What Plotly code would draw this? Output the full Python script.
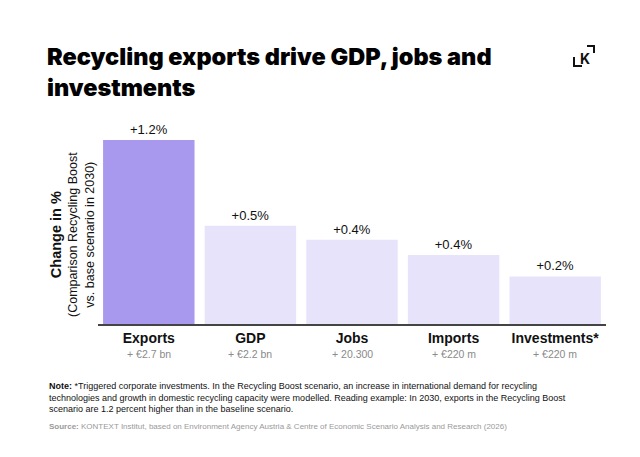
import plotly.graph_objects as go

categories = ['Exports', 'GDP', 'Jobs', 'Imports', 'Investments*']
change_pct = [1.2, 0.64, 0.55, 0.45, 0.31]
value_labels = ['+1.2%', '+0.5%', '+0.4%', '+0.4%', '+0.2%']
abs_labels = ['+ €2.7 bn', '+ €2.2 bn', '+ 20.300', '+ €220 m', '+ €220 m']
bar_colors = ['#a898ee', '#e7e3fb', '#e7e3fb', '#e7e3fb', '#e7e3fb']

FONT = 'Liberation Sans'
W, H = 640, 457
L, R, T, B = 98, 34, 140, 133
pw, ph = W - L - R, H - T - B


def px_x(v):
    return (v - L) / pw


def px_y(v):
    return (H - B - v) / ph


fig = go.Figure(go.Bar(
    x=categories, y=change_pct,
    marker=dict(color=bar_colors, line=dict(width=0)),
    text=value_labels, textposition='outside', cliponaxis=False,
    textfont=dict(family=FONT, size=13, color='#111111'),
    hoverinfo='skip',
))

# sub labels under category names
for cat, lab in zip(categories, abs_labels):
    fig.add_annotation(x=cat, y=0, xref='x', yref='y', yshift=-30,
                       text=lab, showarrow=False,
                       font=dict(family=FONT, size=10.5, color='#8a8a8a'))

# y-axis title (rotated lines)
fig.add_annotation(
    x=px_x(72), y=px_y(235), xref='paper', yref='paper', xanchor='center',
    text='<b style="font-size:14.5px">Change in %</b><br>(Comparison Recycling Boost<br>vs. base scenario in 2030)',
    textangle=-90, showarrow=False, align='center',
    font=dict(family=FONT, size=12.5, color='#111111'))

# note and source
note = ('<b>Note:</b> *Triggered corporate investments. In the Recycling Boost scenario, an increase in international demand for recycling<br>'
        'technologies and growth in domestic recycling capacity were modelled. Reading example: In 2030, exports in the Recycling Boost<br>'
        'scenario are 1.2 percent higher than in the baseline scenario.')
fig.add_annotation(x=px_x(47), y=px_y(379), xref='paper', yref='paper', text=note,
                   showarrow=False, xanchor='left', yanchor='top', align='left',
                   font=dict(family=FONT, size=9, color='#111111'))
source = ('<b>Source:</b> KONTEXT Institut, based on Environment Agency Austria & '
          'Centre of Economic Scenario Analysis and Research (2026)')
fig.add_annotation(x=px_x(47), y=px_y(420), xref='paper', yref='paper', text=source,
                   showarrow=False, xanchor='left', yanchor='top', align='left',
                   font=dict(family=FONT, size=8, color='#9a9a9a'))

# logo
fig.add_annotation(x=px_x(585), y=px_y(58), xref='paper', yref='paper',
                   xanchor='center', yanchor='middle',
                   text='<b>K</b>', showarrow=False,
                   font=dict(family='Inter', size=14, color='#111111'))
fig.add_shape(type='path', xref='paper', yref='paper', layer='above',
              path=f'M {px_x(587)} {px_y(46)} L {px_x(594)} {px_y(46)} L {px_x(594)} {px_y(53)}',
              line=dict(color='#111111', width=2))
fig.add_shape(type='path', xref='paper', yref='paper', layer='above',
              path=f'M {px_x(574)} {px_y(57)} L {px_x(574)} {px_y(66)} L {px_x(582)} {px_y(66)}',
              line=dict(color='#111111', width=2))

fig.update_layout(
    width=W, height=H,
    margin=dict(l=L, r=R, t=T, b=B, autoexpand=False),
    paper_bgcolor='white', plot_bgcolor='white',
    bargap=0.1, showlegend=False,
    title=dict(text='Recycling exports drive GDP, jobs and<br>investments',
               x=47 / W, xanchor='left', y=1 - 65 / H, yanchor='top',
               font=dict(family='Inter', size=23.5, color='#000000', weight=900)),
    xaxis=dict(tickmode='array', tickvals=categories,
               ticktext=[f'<b>{c}</b>' for c in categories],
               tickfont=dict(family=FONT, size=14, color='#111111'),
               showline=True, linecolor='#444444', linewidth=1.5,
               ticks='', ticklen=6, tickcolor='white', showgrid=False),
    yaxis=dict(range=[0, 1.2], visible=False, showgrid=False),
)

fig.write_html('out.html', config={'displayModeBar': False},
               post_script="document.body.style.margin='0';")
